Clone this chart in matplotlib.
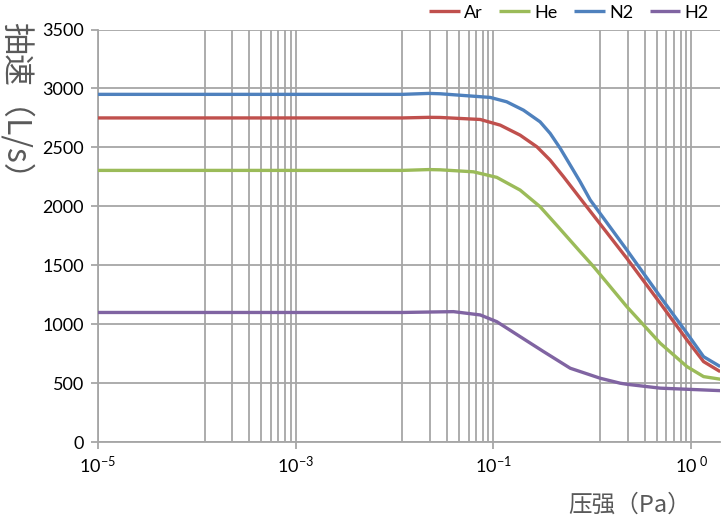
import numpy as np
import matplotlib
matplotlib.use("Agg")
from matplotlib import pyplot as plt
from matplotlib.ticker import FixedLocator, NullFormatter

plt.rcParams['font.family'] = ['Lato', 'DejaVu Sans']
plt.rcParams['mathtext.fontset'] = 'custom'
plt.rcParams['mathtext.rm'] = 'Lato'
plt.rcParams['mathtext.it'] = 'Lato'

# pressure (Pa, axis units as drawn) vs pumping speed (L/s)
x_ar = [1e-5, 0.012, 0.0222, 0.0289, 0.0735, 0.117, 0.186, 0.275, 0.374, 0.511,
        0.753, 2.23, 4.85, 9.03, 13.3, 19.6]
y_ar = [2750, 2750, 2755, 2754, 2737, 2689, 2604, 2505, 2392, 2251,
        2068, 1559, 1178, 867, 683, 598]

x_he = [1e-5, 0.012, 0.0222, 0.0289, 0.0628, 0.108, 0.186, 0.296, 0.45, 0.753,
        1.03, 2.23, 4.85, 9.03, 13.3, 19.6]
y_he = [2305, 2305, 2312, 2310, 2293, 2246, 2138, 1997, 1827, 1615,
        1488, 1149, 839, 641, 556, 534]

x_n2 = [1e-5, 0.012, 0.0222, 0.0289, 0.061, 0.0927, 0.136, 0.201, 0.296, 0.374,
        0.473, 0.597, 0.753, 0.951, 2.23, 4.85, 9.03, 13.3, 19.6]
y_n2 = [2950, 2950, 2958, 2955, 2935, 2924, 2887, 2816, 2717, 2619,
        2492, 2350, 2208, 2054, 1630, 1234, 924, 725, 641]

x_h2 = [1e-5, 0.012, 0.0395, 0.0735, 0.108, 0.186, 0.321, 0.597, 1.20, 1.91,
        2.23, 4.85, 19.6]
y_h2 = [1100, 1100, 1107, 1079, 1022, 895, 768, 627, 542, 500,
        491, 458, 437]

names = ["Ar", "He", "N2", "H2"]
colors = ["#C0504D", "#9BBB59", "#4F81BD", "#8064A2"]

xmajor = [1e-5, 1e-3, 1e-1, 1e1]
xlabels = [r"10$^{-5}$", r"10$^{-3}$", r"10$^{-1}$", r"10$^{\ 0}$"]
yticks = [0, 500, 1000, 1500, 2000, 2500, 3000, 3500]

fig = plt.figure(figsize=[7.24, 5.27], dpi=100)
ax = fig.add_axes([0.135, 0.161, 0.8595, 0.783])

xs = [x_ar, x_he, x_n2, x_h2]
ys = [y_ar, y_he, y_n2, y_h2]
for i in range(4):
    ax.plot(xs[i], ys[i], color=colors[i], lw=2.4, label=names[i],
            solid_capstyle="butt", solid_joinstyle="round", zorder=3)

ax.set_xscale("log")
ax.set_xlim(1e-5, 10**1.29)
ax.set_ylim(0, 3500)
ax.xaxis.set_major_locator(FixedLocator(xmajor))
ax.set_xticklabels(xlabels)
# excel style minor lines for a base-100 log axis
minor = [m * (1 + 11 * k) for m in xmajor for k in range(1, 9)]
ax.xaxis.set_minor_locator(FixedLocator(minor))
ax.xaxis.set_minor_formatter(NullFormatter())
ax.set_yticks(yticks)

gc = "#A6A6A6"
ax.grid(True, which="both", axis="x", color=gc, lw=1.3)
ax.grid(True, which="major", axis="y", color=gc, lw=1.3)
ax.set_axisbelow(True)
for s in ["top", "right"]:
    ax.spines[s].set_visible(False)
for s in ["left", "bottom"]:
    ax.spines[s].set_color(gc)
    ax.spines[s].set_linewidth(1.3)
ax.tick_params(axis="both", which="major", color=gc, width=1.3, length=5,
               labelsize=13, labelcolor="black")
ax.tick_params(axis="y", pad=5)
ax.tick_params(axis="x", pad=4)
ax.tick_params(axis="x", which="minor", length=0)

fig.text(16 / 724, 1 - 108 / 527, "抽速（L/s）", rotation=-90,
         ha="center", va="center", fontsize=23, color="#595959",
         family=["Noto Sans CJK SC", "DejaVu Sans"])
fig.text(630 / 724, 1 - 505 / 527, "压强（Pa）", ha="center", va="center", fontsize=17,
         color="#595959", family=["Noto Sans CJK SC", "DejaVu Sans"])

ax.legend(loc="center right", bbox_to_anchor=(0.985, 1.041), ncol=4, frameon=False,
          fontsize=13, handlelength=1.7, handletextpad=0.25, columnspacing=0.9,
          borderaxespad=0, borderpad=0.1)

fig.savefig("out.png", dpi=100)
